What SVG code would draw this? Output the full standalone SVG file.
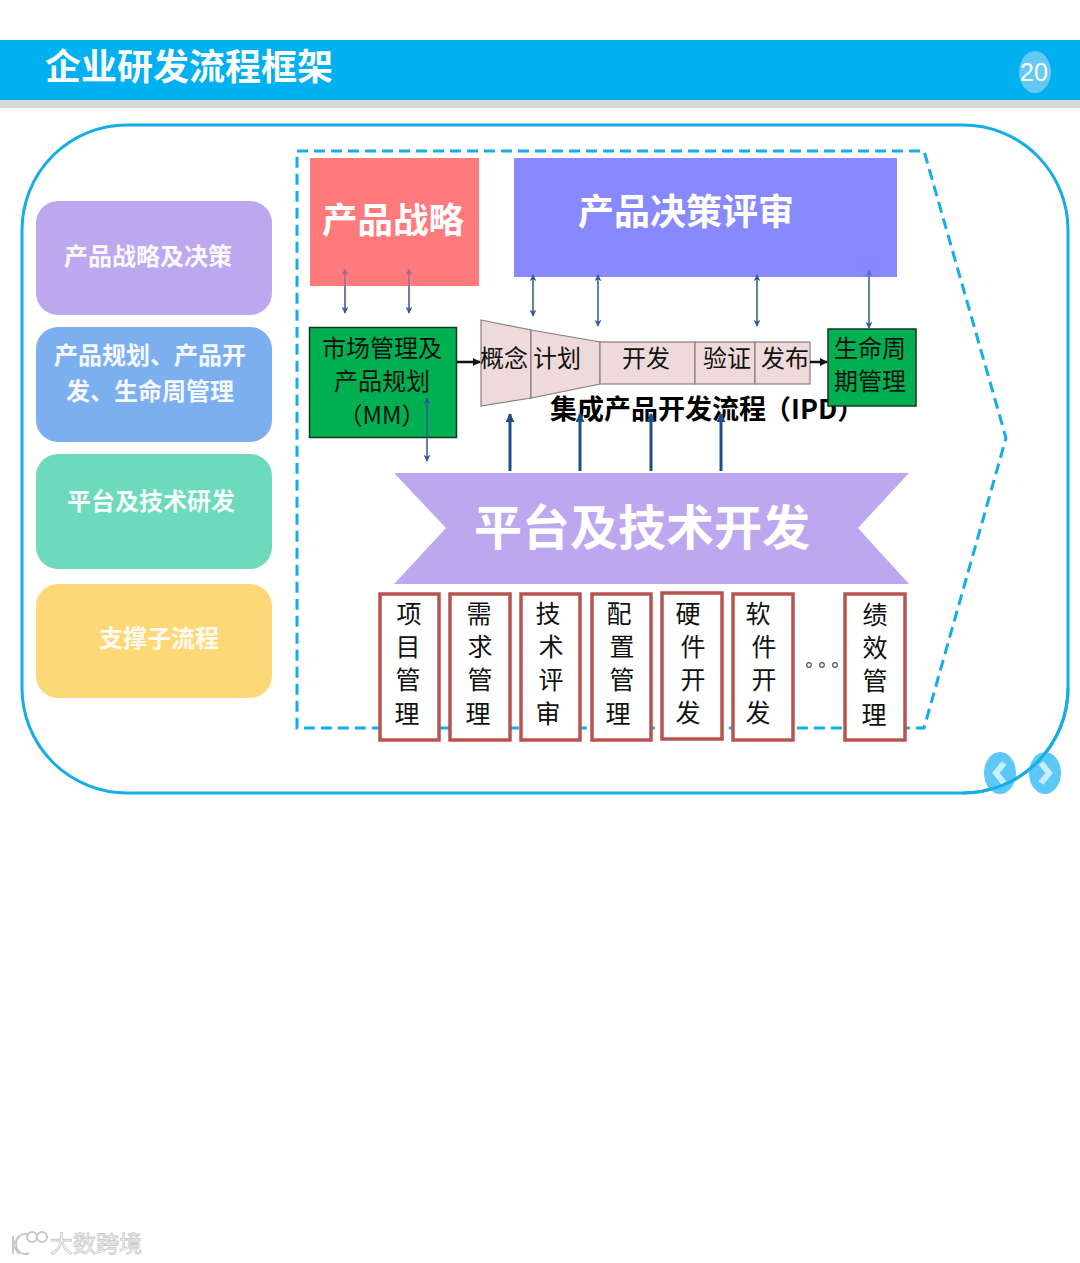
<svg xmlns="http://www.w3.org/2000/svg" width="1080" height="1263" viewBox="0 0 1080 1263">
<style>
text{font-family:"Noto Sans CJK SC","Liberation Sans",sans-serif}
.w{fill:#fff;font-weight:700;text-anchor:middle}
.side{font-size:24px;fill:#fff;font-weight:700;text-anchor:middle;opacity:.92}
.t{font-size:24px;fill:#111;text-anchor:middle;font-family:"Noto Sans CJK SC",serif}
.c{font-size:25px;fill:#111;text-anchor:middle}
.stage{fill:#eedada;stroke:#8a7f7f;stroke-width:1.2}
.box{fill:#fff;stroke:#b85450;stroke-width:3.5}
.g{fill:#00b050;stroke:#123a22;stroke-width:1.5}
.d{stroke:#2f5a94;stroke-width:1.5;fill:none;marker-start:url(#ah);marker-end:url(#ah)}
.u{stroke:#1f4e86;stroke-width:3;fill:none;marker-end:url(#au)}
.k{stroke:#111;stroke-width:2.5;fill:none;marker-end:url(#ak)}
</style>
<defs>
<marker id="ah" viewBox="0 0 10 10" refX="9" refY="5" markerWidth="7" markerHeight="7" orient="auto-start-reverse" markerUnits="userSpaceOnUse"><path d="M0 0L10 5L0 10L3 5z" fill="#2f5a94"/></marker>
<marker id="au" viewBox="0 0 10 10" refX="9" refY="5" markerWidth="9" markerHeight="9" orient="auto" markerUnits="userSpaceOnUse"><path d="M0 0L10 5L0 10z" fill="#1f4e86"/></marker>
<marker id="ak" viewBox="0 0 10 10" refX="9" refY="5" markerWidth="8" markerHeight="8" orient="auto" markerUnits="userSpaceOnUse"><path d="M0 0L10 5L0 10z" fill="#111"/></marker>
</defs>
<rect width="1080" height="1263" fill="#fff"/>
<g id="header">
<rect y="100" width="1080" height="8" fill="#d9d9d9"/>
<rect y="40" width="1080" height="60" fill="#00b0f0"/>
<text x="45" y="80" font-size="36" class="w" style="text-anchor:start">企业研发流程框架</text>
<ellipse cx="1035" cy="72" rx="16" ry="21" fill="#66c9f5"/>
<text x="1034" y="81" font-size="25" fill="#fff" text-anchor="middle" style="font-family:'Liberation Sans',sans-serif">20</text>
</g>
<g id="frame"><rect x="22" y="125" width="1046" height="668" rx="105" ry="105" fill="none" stroke="#14ade8" stroke-width="3"/></g>
<g id="side-1"><rect x="36" y="201" width="236" height="114" rx="22" fill="#bda8f0"/><text x="148" y="265" class="side">产品战略及决策</text></g>
<g id="side-2"><rect x="36" y="327" width="236" height="115" rx="22" fill="#7baff0"/><text x="150" y="364" class="side">产品规划、产品开</text><text x="150" y="400" class="side">发、生命周管理</text></g>
<g id="side-3"><rect x="36" y="454" width="236" height="115" rx="22" fill="#6ddabb"/><text x="151" y="510" class="side">平台及技术研发</text></g>
<g id="side-4"><rect x="36" y="584" width="236" height="114" rx="22" fill="#fed876"/><text x="159" y="647" class="side">支撑子流程</text></g>
<g id="boundary"><path d="M297 151H924L1006 438L924 728H297Z" fill="none" stroke="#14ade8" stroke-width="3" stroke-dasharray="11 6"/></g>
<g id="strategy"><rect x="310" y="158" width="169" height="128" fill="#ff7a7c"/><text x="393" y="233" font-size="35.500" class="w">产品战略</text></g>
<g id="review"><rect x="514" y="158" width="383" height="119" fill="#8888ff"/><text x="686" y="225" font-size="36" class="w">产品决策评审</text></g>
<g id="mm"><rect x="309.500" y="327.500" width="147" height="110" class="g"/><text x="382" y="357" class="t">市场管理及</text><text x="382" y="390" class="t">产品规划</text><text x="382" y="424" class="t">（MM）</text></g>
<g id="ipd">
<path d="M481 320L531 330V398L481 406Z" class="stage"/>
<path d="M531 330L600 342V384L531 398Z" class="stage"/>
<rect x="600" y="342" width="95" height="42" class="stage"/>
<rect x="695" y="342" width="60" height="42" class="stage"/>
<rect x="755" y="342" width="55" height="42" class="stage"/>
<text x="504" y="367" class="t">概念</text><text x="557" y="367" class="t">计划</text><text x="646" y="367" class="t">开发</text><text x="727" y="367" class="t">验证</text><text x="785" y="367" class="t">发布</text>
</g>
<g id="ipd-label"><text x="550" y="419" font-size="27" font-weight="700" fill="#000">集成产品开发流程<tspan x="764">（IPD）</tspan></text></g>
<g id="lifecycle"><rect x="828" y="329" width="88" height="77" class="g"/><text x="870" y="357" class="t">生命周</text><text x="870" y="390" class="t">期管理</text></g>
<g id="platform"><path d="M394 473H909L858 528L909 584H394L446 528Z" fill="#bda8f0"/><text x="642" y="545" font-size="48" class="w">平台及技术开发</text></g>
<g id="connectors">
<path class="d" d="M345 269V313"/><path class="d" d="M409 269V313"/>
<path class="d" d="M533 275V316"/><path class="d" d="M598 275V326"/><path class="d" d="M757 275V326"/><path class="d" d="M869 270V328"/>
<path class="d" d="M427 398V461"/>
<path class="k" d="M457 362H480"/><path class="k" d="M810 362H827"/>
<path class="u" d="M510 471V414"/><path class="u" d="M580 471V414"/><path class="u" d="M651 471V414"/><path class="u" d="M721 471V414"/>
<rect x="330" y="262" width="90" height="24" fill="#ff7a7c" opacity=".55"/>
<rect x="860" y="262" width="18" height="15" fill="#8888ff" opacity=".45"/>
</g>
<g id="sup-1"><rect x="380" y="594" width="59" height="146" class="box"/><text x="409" y="623" class="c">项</text><text x="408" y="656" class="c">目</text><text x="408" y="689" class="c">管</text><text x="407" y="723" class="c">理</text></g>
<g id="sup-2"><rect x="450" y="594" width="60" height="146" class="box"/><text x="479" y="623" class="c">需</text><text x="480" y="656" class="c">求</text><text x="480" y="689" class="c">管</text><text x="478" y="723" class="c">理</text></g>
<g id="sup-3"><rect x="521" y="594" width="59" height="146" class="box"/><text x="548" y="623" class="c">技</text><text x="551" y="656" class="c">术</text><text x="551" y="689" class="c">评</text><text x="548" y="723" class="c">审</text></g>
<g id="sup-4"><rect x="592" y="594" width="59" height="146" class="box"/><text x="619" y="623" class="c">配</text><text x="622" y="656" class="c">置</text><text x="622" y="689" class="c">管</text><text x="618" y="723" class="c">理</text></g>
<g id="sup-5"><rect x="662" y="593" width="60" height="146" class="box"/><text x="688" y="623" class="c">硬</text><text x="693" y="656" class="c">件</text><text x="693" y="689" class="c">开</text><text x="688" y="722" class="c">发</text></g>
<g id="sup-6"><rect x="733" y="594" width="60" height="146" class="box"/><text x="758" y="623" class="c">软</text><text x="764" y="656" class="c">件</text><text x="764" y="689" class="c">开</text><text x="758" y="722" class="c">发</text></g>
<g id="ellipsis" fill="none" stroke="#555" stroke-width="1.200"><circle cx="809" cy="665" r="2.300"/><circle cx="822" cy="665" r="2.300"/><circle cx="835" cy="665" r="2.300"/></g>
<g id="sup-7"><rect x="845" y="594" width="60" height="146" class="box"/><text x="875" y="624" class="c">绩</text><text x="875" y="657" class="c">效</text><text x="875" y="690" class="c">管</text><text x="874" y="724" class="c">理</text></g>
<g id="nav-prev"><ellipse cx="1000" cy="773" rx="16" ry="21" fill="#5cc8f8"/><path d="M1004 763L996 773L1004 783" fill="none" stroke="#c8eefc" stroke-width="6"/></g>
<g id="nav-next"><ellipse cx="1045" cy="773" rx="16" ry="21" fill="#5cc8f8"/><path d="M1041 763L1049 773L1041 783" fill="none" stroke="#c8eefc" stroke-width="6"/></g>
<path d="M963 793A105 105 0 0 0 1068 688" fill="none" stroke="#14ade8" stroke-width="3"/>
<g id="watermark">
<text x="96" y="1252" font-size="23" text-anchor="middle" fill="#fff" stroke="#c8c8c8" stroke-width=".8">大数跨境</text>
<g fill="none" stroke="#c8c8c8" stroke-width="2"><path d="M13 1236V1254M13 1245L19 1236M13 1245L19 1254"/><path d="M29 1235A9 10 0 1 0 29 1253"/><circle cx="32" cy="1237" r="5"/><circle cx="42" cy="1237" r="5"/></g>
</g>
</svg>
